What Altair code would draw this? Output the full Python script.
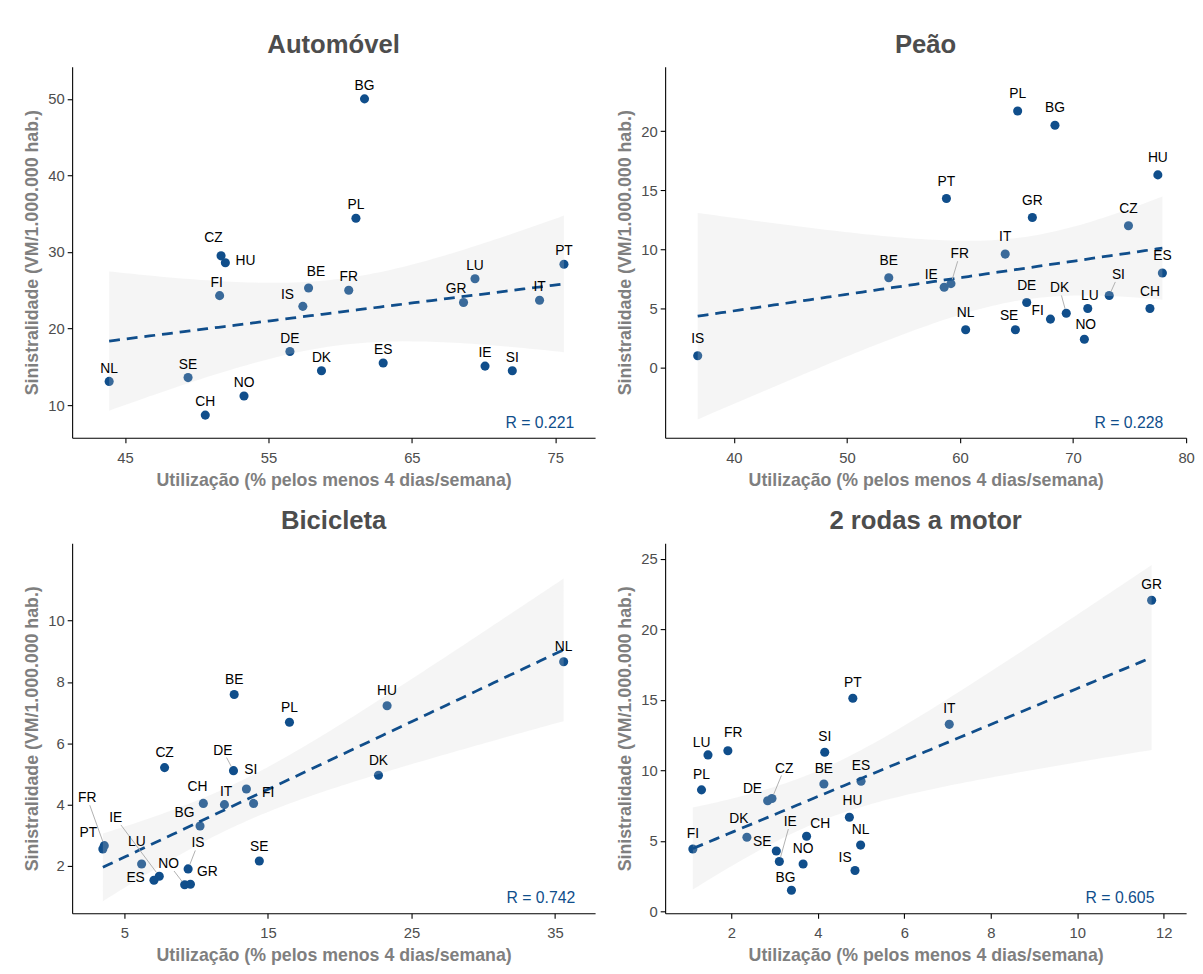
import numpy as np
import pandas as pd
import altair as alt

# ---------------- data ----------------
countries_auto = ["BG", "PL", "CZ", "HU", "FI", "BE", "FR", "IS", "LU", "GR", "PT",
                  "IT", "DE", "DK", "ES", "IE", "SI", "NL", "SE", "NO", "CH"]
util_auto = [61.7, 61.1, 51.7, 52.0, 51.6, 57.8, 60.6, 57.4, 69.4, 68.6, 75.6,
             73.9, 56.5, 58.7, 63.0, 70.1, 72.0, 43.9, 49.4, 53.3, 50.6]
sin_auto = [50.0, 34.4, 29.5, 28.6, 24.3, 25.3, 25.0, 22.9, 26.5, 23.4, 28.4,
            23.7, 17.0, 14.5, 15.5, 15.1, 14.5, 13.1, 13.6, 11.2, 8.7]

countries_peao = ["PL", "BG", "HU", "PT", "GR", "CZ", "IT", "ES", "BE", "IE", "FR",
                  "SI", "DE", "LU", "CH", "DK", "FI", "NL", "SE", "NO", "IS"]
util_peao = [65.1, 68.4, 77.5, 58.8, 66.4, 74.9, 64.0, 77.9, 53.7, 58.6, 59.2,
             73.2, 65.9, 71.3, 76.8, 69.4, 68.0, 60.5, 64.9, 71.0, 36.8]
sin_peao = [21.7, 20.5, 16.3, 14.3, 12.7, 12.0, 9.6, 8.0, 7.6, 6.8, 7.1,
            6.1, 5.5, 5.0, 5.0, 4.6, 4.1, 3.2, 3.2, 2.4, 1.0]

countries_bici = ["NL", "HU", "BE", "PL", "CZ", "DE", "DK", "SI", "CH", "IT", "FI",
                  "BG", "PT", "FR", "LU", "SE", "IS", "IE", "ES", "NO", "GR"]
util_bici = [35.6, 23.3, 12.65, 16.5, 7.8, 12.6, 22.7, 13.5, 10.5, 11.97, 14.0,
             10.27, 3.5, 3.6, 6.2, 14.4, 9.44, 7.43, 7.06, 9.2, 9.6]
sin_bici = [8.66, 7.22, 7.59, 6.68, 5.2, 5.1, 4.95, 4.5, 4.03, 3.99, 4.03,
            3.29, 2.54, 2.65, 2.05, 2.15, 1.89, 1.65, 1.52, 1.37, 1.39]

countries_moto = ["GR", "IT", "PT", "FR", "LU", "SI", "PL", "BE", "ES", "DE", "CZ",
                  "HU", "DK", "CH", "NL", "FI", "SE", "IE", "NO", "IS", "BG"]
util_moto = [11.72, 7.04, 4.81, 1.92, 1.46, 4.16, 1.31, 4.14, 5.0, 2.84, 2.94,
             4.73, 2.36, 3.74, 4.99, 1.11, 3.04, 3.11, 3.66, 4.86, 3.39]
sin_moto = [22.08, 13.27, 15.12, 11.40, 11.1, 11.29, 8.62, 9.04, 9.23, 7.85, 8.01,
            6.68, 5.26, 5.33, 4.70, 4.42, 4.28, 3.53, 3.36, 2.90, 1.50]

titles = ["Automóvel", "Peão", "Bicicleta", "2 rodas a motor"]
r_labels = ["R = 0.221", "R = 0.228", "R = 0.742", "R = 0.605"]
x_title = "Utilização (% pelos menos 4 dias/semana)"
y_title = "Sinistralidade (VM/1.000.000 hab.)"

# ---------------- layout / style ----------------
BLUE = "#104E8B"
FONT = "Liberation Sans"
T975 = {17: 2.110, 18: 2.101, 19: 2.093, 20: 2.086, 21: 2.080}

# label offsets in pixels (dx, dy) of label centre relative to the point
off_auto = {"CZ": (-7.6, -18.3), "HU": (20.3, -2), "FI": (-3, -12.3), "BE": (7.6, -16),
            "IS": (-15.5, -11), "GR": (-7.6, -13.3)}
off_peao = {"IE": (-13.2, -12.7), "FR": (8.9, -29.7), "SI": (9.3, -20.7), "LU": (2.1, -12.7),
            "DK": (-6.8, -25), "FI": (-12.9, -8), "SE": (-6.4, -14), "NO": (1.4, -14.7)}
off_bici = {"DE": (-10.7, -20.3), "SI": (4.5, -19), "CH": (-5.9, -16.7), "IT": (1.7, -12.3),
            "FI": (14.8, -10.3), "BG": (-15.8, -13), "FR": (-17.2, -48), "PT": (-14.8, -15.7),
            "IE": (-44.1, -59), "LU": (-4.8, -22.3), "IS": (10, -25.7), "ES": (-18.6, -2.3),
            "NO": (-16.2, -21), "GR": (17.2, -12)}
off_moto = {"FR": (5.4, -18), "LU": (-6.4, -11.7), "DE": (-15.4, -12), "CZ": (12.5, -30.3),
            "HU": (3.2, -16.7), "DK": (-8.2, -18.3), "CH": (13.9, -12.7), "SE": (-14.3, -9),
            "IE": (11.1, -40), "IS": (-10, -13), "BG": (-6.1, -12.3)}
lead_peao = ["FR", "SI", "DK"]
lead_bici = ["FR", "IE", "DE", "IS", "NO"]
lead_moto = ["CZ", "IE"]


def fit_band(x, y):
    x = np.asarray(x, float)
    y = np.asarray(y, float)
    n = len(x)
    b, a = np.polyfit(x, y, 1)
    xs = np.linspace(x.min(), x.max(), 80)
    yhat = a + b * xs
    resid = y - (a + b * x)
    s = np.sqrt((resid ** 2).sum() / (n - 2))
    sxx = ((x - x.mean()) ** 2).sum()
    se = s * np.sqrt(1.0 / n + (xs - x.mean()) ** 2 / sxx)
    t = T975.get(n - 2, 2.09)
    return pd.DataFrame({"x": xs, "y": yhat, "lo": yhat - t * se, "hi": yhat + t * se})


def panel(title, cc, xs, ys, rlab, xdom, ydom, xticks, yticks, w, h,
          offsets, default_dy, leaders, r_pos):
    kx = (xdom[1] - xdom[0]) / w
    ky = (ydom[1] - ydom[0]) / h
    pts = pd.DataFrame({"c": cc, "x": xs, "y": ys})
    lab_rows, lead_rows = [], []
    for c, x, y in zip(cc, xs, ys):
        dx, dy = offsets.get(c, (0.0, default_dy))
        lab_rows.append({"c": c, "x": x + dx * kx, "y": y - dy * ky})
        if c in leaders:
            L = np.hypot(dx, dy)
            s_box = min(9.0 / abs(dx) if dx else 1e9, 7.0 / abs(dy) if dy else 1e9)
            ex, ey = dx * (1 - s_box), dy * (1 - s_box)
            sx, sy = dx * 4.5 / L, dy * 4.5 / L
            lead_rows.append({"x": x + sx * kx, "y": y - sy * ky,
                              "x2": x + ex * kx, "y2": y - ey * ky})
    labs = pd.DataFrame(lab_rows)
    band = fit_band(xs, ys)

    xsc = alt.Scale(domain=xdom, nice=False, zero=False)
    ysc = alt.Scale(domain=ydom, nice=False, zero=False)
    xax = alt.Axis(values=xticks, title=x_title, labelFlush=False)
    yax = alt.Axis(values=yticks, title=y_title)

    def X(f):
        return alt.X(f, scale=xsc, axis=xax)

    def Y(f):
        return alt.Y(f, scale=ysc, axis=yax)

    p = alt.Chart(pts).mark_circle(size=85, opacity=1, color=BLUE).encode(
        x=X("x:Q"), y=Y("y:Q"))
    area = alt.Chart(band).mark_area(color="#d0d0d0", opacity=0.22).encode(
        x=X("x:Q"), y=Y("lo:Q"), y2="hi:Q")
    line = alt.Chart(band).mark_line(color=BLUE, strokeWidth=2.8, strokeDash=[11, 7]).encode(
        x=X("x:Q"), y=Y("y:Q"))
    layers = [p, area, line]
    if lead_rows:
        rules = alt.Chart(pd.DataFrame(lead_rows)).mark_rule(color="#b0b0b0", strokeWidth=1).encode(
            x=X("x:Q"), y=Y("y:Q"), x2="x2:Q", y2="y2:Q")
        layers.append(rules)
    texts = alt.Chart(labs).mark_text(font=FONT, fontSize=14, color="black",
                                      baseline="middle", align="center").encode(
        x=X("x:Q"), y=Y("y:Q"), text="c:N")
    rtxt = alt.Chart(pd.DataFrame({"t": [rlab]})).mark_text(
        font=FONT, fontSize=16, color=BLUE, align="center", baseline="alphabetic"
    ).encode(x=alt.value(r_pos[0]), y=alt.value(r_pos[1]), text="t:N")
    layers += [texts, rtxt]
    return alt.layer(*layers).properties(
        width=w, height=h,
        title=alt.TitleParams(title, fontSize=26, font=FONT, fontWeight="bold",
                              color="#4d4d4d", anchor="middle", baseline="bottom", offset=-17),
    )


W1, W2, H1, H2 = 530, 528, 376, 375

p1 = panel(titles[0], countries_auto, util_auto, sin_auto, r_labels[0],
           [41.32, 77.77], [5.75, 54.2], [45, 55, 65, 75], [10, 20, 30, 40, 50],
           W1, H1, off_auto, -13, [], (474, H1 - 10))
p2 = panel(titles[1], countries_peao, util_peao, sin_peao, r_labels[1],
           [33.92, 80.0], [-5.93, 25.45], [40, 50, 60, 70, 80], [0, 5, 10, 15, 20],
           W2, H1, off_peao, -17, lead_peao, (470, H1 - 10))
p3 = panel(titles[2], countries_bici, util_bici, sin_bici, r_labels[2],
           [1.36, 37.79], [0.44, 12.53], [5, 15, 25, 35], [2, 4, 6, 8, 10],
           W1, H2, off_bici, -14.5, lead_bici, (475, H2 - 10))
p4 = panel(titles[3], countries_moto, util_moto, sin_moto, r_labels[3],
           [0.469, 12.518], [-0.14, 26.12], [2, 4, 6, 8, 10, 12], [0, 5, 10, 15, 20, 25],
           W2, H2, off_moto, -15, lead_moto, (461, H2 - 10))

row1 = alt.hconcat(p1, p2, spacing=22)
row2 = alt.hconcat(p3, p4, spacing=22)
chart = alt.vconcat(row1, row2, spacing=20).properties(
    padding={"left": 16, "top": 18, "right": 0, "bottom": 0},
    background="white",
).configure_view(stroke=None).configure_axis(
    grid=False,
    domainColor="black", domainWidth=1.1,
    tickColor="black", tickWidth=1.1, tickSize=5,
    labelFont=FONT, labelFontSize=15, labelColor="#4d4d4d", labelPadding=3,
    titleFont=FONT, titleFontSize=18, titleFontWeight="bold", titleColor="#7f7f7f",
    titlePadding=6,
).configure_axisX(labelPadding=8)

chart.save("out.html", embed_options={"renderer": "svg", "actions": False})
